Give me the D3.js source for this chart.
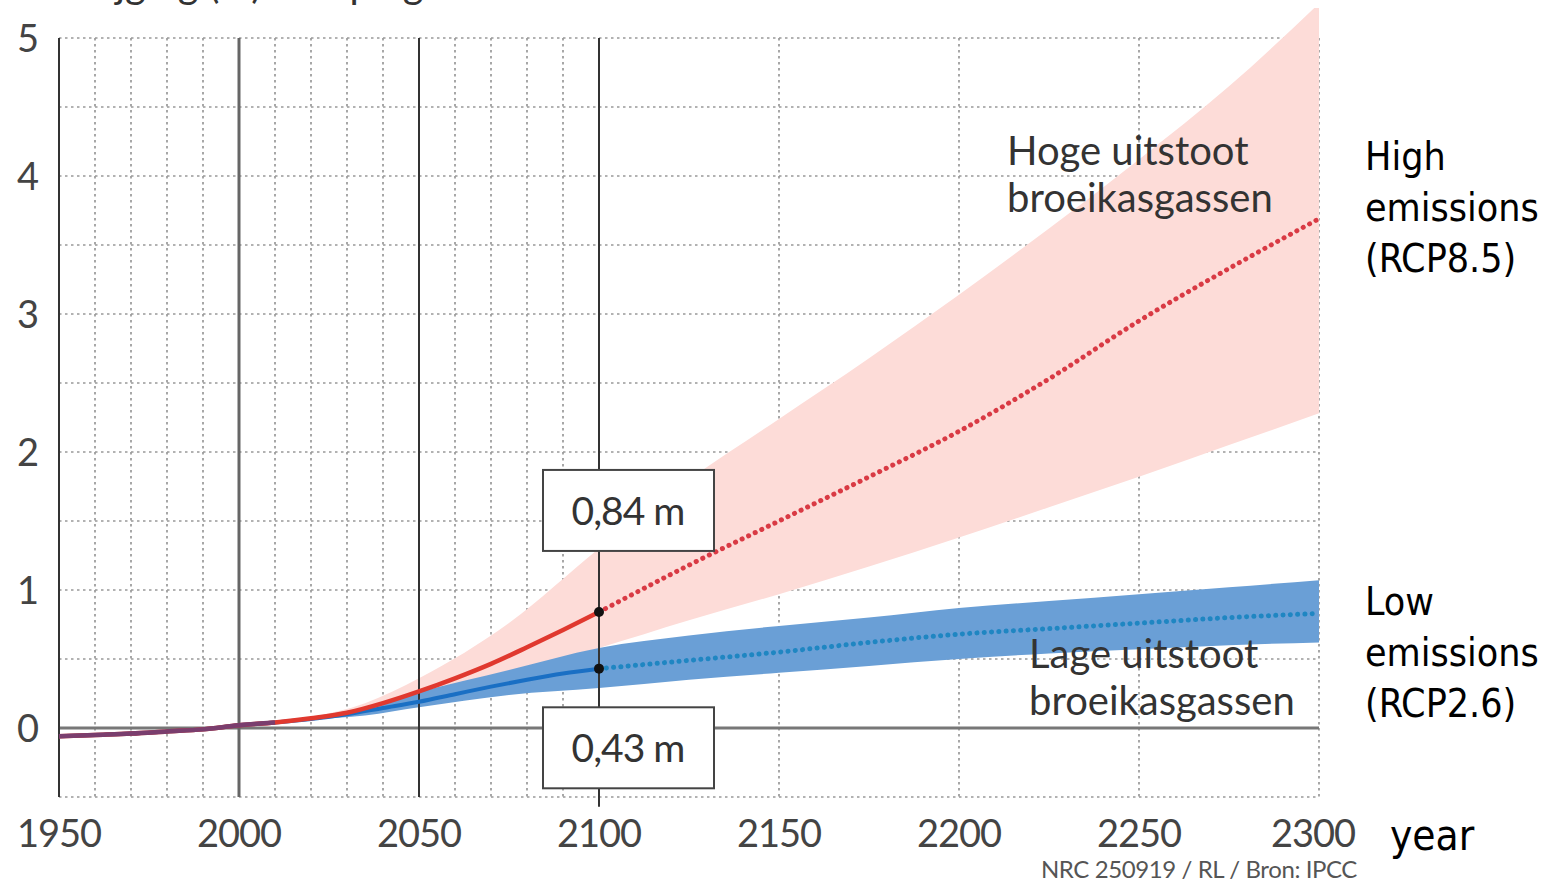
<!DOCTYPE html>
<html>
<head>
<meta charset="utf-8">
<script src="https://cdn.jsdelivr.net/npm/d3@7"></script>
<style>
  body { margin: 0; background: #fff; }
  svg { display: block; }
</style>
</head>
<body>
<svg id="canvas" width="1561" height="882"></svg>
<script>
let histYears = [1950, 1960, 1970, 1980, 1990, 2000, 2010, 2020, 2030, 2040, 2050, 2060, 2070, 2080, 2090, 2100]
let highLine = [-0.06, -0.05, -0.04, -0.025, -0.01, 0.02, 0.04, 0.07, 0.11, 0.18, 0.265, 0.36, 0.465, 0.585, 0.71, 0.84]
let lowLine  = [-0.06, -0.05, -0.04, -0.025, -0.01, 0.02, 0.04, 0.065, 0.1, 0.145, 0.19, 0.245, 0.3, 0.35, 0.395, 0.43]

let futureYears = [2100, 2125, 2150, 2175, 2200, 2225, 2250, 2275, 2300]
let highDotted = [0.84, 1.18, 1.5, 1.82, 2.15, 2.53, 2.95, 3.33, 3.69]
let lowDotted  = [0.43, 0.49, 0.55, 0.62, 0.68, 0.72, 0.76, 0.8, 0.83]

let bandYears = [2010, 2020, 2035, 2050, 2075, 2100, 2125, 2150, 2175, 2200, 2225, 2250, 2275, 2300]
let highLower = [0.04, 0.06, 0.11, 0.24, 0.4, 0.58, 0.78, 0.97, 1.17, 1.38, 1.6, 1.82, 2.05, 2.28]
let highUpper = [0.04, 0.08, 0.18, 0.36, 0.76, 1.3, 1.8, 2.24, 2.68, 3.14, 3.62, 4.12, 4.65, 5.25]
let lowLower  = [0.04, 0.06, 0.09, 0.15, 0.24, 0.29, 0.35, 0.4, 0.45, 0.5, 0.54, 0.57, 0.6, 0.62]
let lowUpper  = [0.04, 0.08, 0.15, 0.26, 0.42, 0.58, 0.67, 0.74, 0.8, 0.87, 0.92, 0.97, 1.02, 1.07]

let xTicks = [1950, 2000, 2050, 2100, 2150, 2200, 2250, 2300]
let yTicks = [0, 1, 2, 3, 4, 5]
let solidYears = [1950, 2000, 2050, 2100]
let dottedYears = [1960, 1970, 1980, 1990, 2010, 2020, 2030, 2040, 2060, 2070, 2080, 2090, 2150, 2200, 2250, 2300]
let gridLevels = [-0.5, 0.5, 1, 1.5, 2, 2.5, 3, 3.5, 4, 4.5, 5]

let labels2100 = [
    {value: 0.84, text: '0,84 m', boxTop: 1.87},
    {value: 0.43, text: '0,43 m', boxTop: 0.15}
]

let canvas = d3.select('#canvas')

let xScale = d3.scaleLinear().domain([1950, 2300]).range([59, 1319])
let yScale = d3.scaleLinear().domain([-0.5, 5]).range([797, 38])

let mainFont = 'Lato, "Open Sans", sans-serif'
let sideFont = '"DejaVu Sans Condensed", "DejaVu Sans", sans-serif'

// title, cut off at the top edge in the original
canvas.append('text')
    .attr('x', 70)
    .attr('y', -2)
    .attr('font-family', mainFont)
    .attr('font-size', 40)
    .attr('fill', '#333')
    .text('Stijging (m) zeespiegel')

canvas.append('defs').append('clipPath')
    .attr('id', 'plotClip')
    .append('rect')
    .attr('x', xScale(1950))
    .attr('y', 8)
    .attr('width', xScale(2300) - xScale(1950))
    .attr('height', yScale(-0.5) - 8)

// dotted grid
let grid = canvas.append('g')
grid.selectAll('.hgrid')
    .data(gridLevels)
    .enter()
    .append('line')
    .attr('x1', xScale(1950))
    .attr('x2', xScale(2300))
    .attr('y1', (d) => yScale(d))
    .attr('y2', (d) => yScale(d))
    .attr('stroke', '#999')
    .attr('stroke-width', 1.7)
    .attr('stroke-dasharray', '2.5,3.5')

grid.selectAll('.vgrid')
    .data(dottedYears)
    .enter()
    .append('line')
    .attr('x1', (d) => xScale(d))
    .attr('x2', (d) => xScale(d))
    .attr('y1', yScale(5))
    .attr('y2', yScale(-0.5))
    .attr('stroke', '#999')
    .attr('stroke-width', 1.7)
    .attr('stroke-dasharray', '2.5,3.5')

// bands
let area = (lower, upper) => d3.area()
    .x((d, i) => xScale(bandYears[i]))
    .y0((d, i) => yScale(lower[i]))
    .y1((d, i) => yScale(upper[i]))
    .curve(d3.curveMonotoneX)

let bands = canvas.append('g').attr('clip-path', 'url(#plotClip)')
bands.append('path')
    .attr('d', area(highLower, highUpper)(bandYears))
    .attr('fill', '#fddcd8')
bands.append('path')
    .attr('d', area(lowLower, lowUpper)(bandYears))
    .attr('fill', '#6a9fd6')

// solid reference lines
canvas.append('line')
    .attr('x1', xScale(1950))
    .attr('x2', xScale(2300))
    .attr('y1', yScale(0))
    .attr('y2', yScale(0))
    .attr('stroke', '#777')
    .attr('stroke-width', 3)

canvas.selectAll('.solid')
    .data(solidYears)
    .enter()
    .append('line')
    .attr('x1', (d) => xScale(d))
    .attr('x2', (d) => xScale(d))
    .attr('y1', yScale(5))
    .attr('y2', (d) => d === 2100 ? yScale(-0.57) : yScale(-0.5))
    .attr('stroke', (d) => d === 2000 ? '#666' : '#333')
    .attr('stroke-width', (d) => d === 2000 ? 3 : 2)

// lines
let line = (years) => d3.line()
    .x((d, i) => xScale(years[i]))
    .y((d) => yScale(d))
    .curve(d3.curveMonotoneX)

canvas.append('path')
    .attr('d', line(histYears)(lowLine))
    .attr('fill', 'none')
    .attr('stroke', '#1a6fc4')
    .attr('stroke-width', 4)
canvas.append('path')
    .attr('d', line(histYears)(highLine))
    .attr('fill', 'none')
    .attr('stroke', '#e0392f')
    .attr('stroke-width', 4.5)
// shared early part looks purple where both overlap
canvas.append('path')
    .attr('d', line(histYears.slice(0, 7))(highLine.slice(0, 7)))
    .attr('fill', 'none')
    .attr('stroke', '#7a3e6e')
    .attr('stroke-width', 4.5)

canvas.append('path')
    .attr('d', line(futureYears)(highDotted))
    .attr('fill', 'none')
    .attr('stroke', '#d93a44')
    .attr('stroke-width', 5)
    .attr('stroke-linecap', 'round')
    .attr('stroke-dasharray', '0.1,7.2')
canvas.append('path')
    .attr('d', line(futureYears)(lowDotted))
    .attr('fill', 'none')
    .attr('stroke', '#1f86c2')
    .attr('stroke-width', 5)
    .attr('stroke-linecap', 'round')
    .attr('stroke-dasharray', '0.1,7.2')

// value boxes at 2100
let boxes = canvas.selectAll('.box')
    .data(labels2100)
    .enter()
    .append('g')
boxes.append('rect')
    .attr('x', xScale(2100) - 56)
    .attr('y', (d) => yScale(d.boxTop))
    .attr('width', 171)
    .attr('height', 81)
    .attr('fill', '#fff')
    .attr('stroke', '#444')
    .attr('stroke-width', 2)
boxes.append('text')
    .attr('x', xScale(2100) + 29)
    .attr('y', (d) => yScale(d.boxTop) + 55)
    .attr('text-anchor', 'middle')
    .attr('font-family', mainFont)
    .attr('font-size', 39)
    .attr('letter-spacing', -1)
    .attr('fill', '#333')
    .text((d) => d.text)
boxes.append('circle')
    .attr('cx', xScale(2100))
    .attr('cy', (d) => yScale(d.value))
    .attr('r', 5)
    .attr('fill', '#111')

// axis tick labels
canvas.selectAll('.ylab')
    .data(yTicks)
    .enter()
    .append('text')
    .attr('x', 28)
    .attr('y', (d) => yScale(d) + 14)
    .attr('text-anchor', 'middle')
    .attr('font-family', mainFont)
    .attr('font-size', 38)
    .attr('fill', '#444')
    .text((d) => d)

canvas.selectAll('.xlab')
    .data(xTicks)
    .enter()
    .append('text')
    .attr('x', (d) => d === 2300 ? xScale(d) - 6 : xScale(d))
    .attr('y', 847)
    .attr('text-anchor', 'middle')
    .attr('font-family', mainFont)
    .attr('font-size', 38)
    .attr('letter-spacing', -1)
    .attr('fill', '#444')
    .text((d) => d)

// in-chart scenario labels
let inner = [
    {x: 1007, y: 165, lines: ['Hoge uitstoot', 'broeikasgassen']},
    {x: 1029, y: 668, lines: ['Lage uitstoot', 'broeikasgassen']}
]
inner.forEach((lab) => {
    lab.lines.forEach((t, i) => {
        canvas.append('text')
            .attr('x', lab.x)
            .attr('y', lab.y + i * 47)
            .attr('font-family', mainFont)
            .attr('font-size', 40)
            .attr('fill', '#333')
            .text(t)
    })
})

// English labels at right
let side = [
    {y: 170, lines: ['High', 'emissions', '(RCP8.5)']},
    {y: 615, lines: ['Low', 'emissions', '(RCP2.6)']}
]
side.forEach((lab) => {
    lab.lines.forEach((t, i) => {
        canvas.append('text')
            .attr('x', 1365)
            .attr('y', lab.y + i * 51)
            .attr('font-family', sideFont)
            .attr('font-size', 39)
            .attr('fill', '#000')
            .text(t)
    })
})

canvas.append('text')
    .attr('x', 1390)
    .attr('y', 850)
    .attr('font-family', sideFont)
    .attr('font-size', 42)
    .attr('fill', '#000')
    .text('year')

canvas.append('text')
    .attr('x', 1357)
    .attr('y', 878)
    .attr('text-anchor', 'end')
    .attr('font-family', mainFont)
    .attr('font-size', 24)
    .attr('letter-spacing', -0.4)
    .attr('fill', '#555')
    .text('NRC 250919 / RL / Bron: IPCC')
</script>
</body>
</html>
